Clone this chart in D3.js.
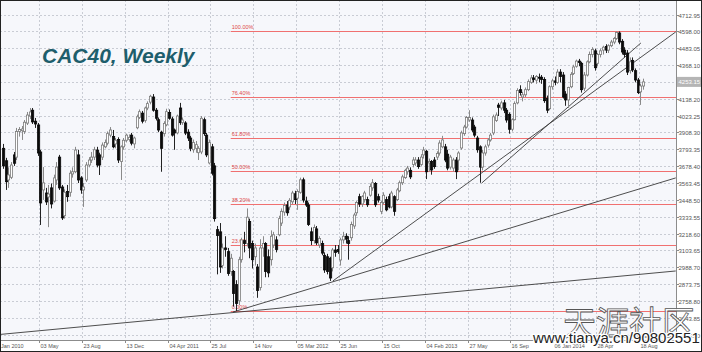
<!DOCTYPE html>
<html>
<head>
<meta charset="utf-8">
<script src="https://cdn.jsdelivr.net/npm/d3@7"></script>
<style>
html, body { margin: 0; padding: 0; background: #fff; }
svg { display: block; font-family: "Liberation Sans", Arial, sans-serif; }
</style>
</head>
<body>
<div id="chart"></div>
<script>
// weekly CAC40 candles, first week 25 Jan 2010, last week 25 Aug 2014
const firstWeek = new Date(Date.UTC(2010, 0, 25));
const lastWeek = new Date(Date.UTC(2014, 7, 25));

const opens = [
  3800, 3715, 3584, 3602, 3755, 3740, 3915, 3920, 3915, 3972, 4020, 4060, 3985, 3959,
  3775, 3516, 3495, 3468, 3530, 3440, 3584, 3740, 3536, 3340, 3505, 3500, 3625, 3640, 3755, 3598,
  3516, 3584, 3686, 3720, 3740, 3788, 3755, 3740, 3810, 3835, 3890, 3880, 3830, 3860, 3710, 3810,
  3855, 3860, 3890, 3830, 3940, 4010, 4040, 3990, 4075, 4115, 4150, 4060, 3995, 3910, 3900, 3960,
  4045, 4000, 3925, 3905, 4075, 3975, 3973, 3910, 3870, 3790, 3800, 3770, 3775, 3995, 3890, 3700,
  3810, 3680, 3245, 3230, 3000, 3120, 3095, 2960, 2960, 2870, 2760, 3040, 3170, 3150, 3300, 3150,
  3060, 2990, 2850, 3120, 3150, 3060, 3040, 3140, 3175, 3210, 3290, 3365, 3413, 3400, 3435, 3490,
  3460, 3500, 3585, 3440, 3413, 3230, 3170, 3250, 3140, 3150, 3070, 3060, 3050, 2985, 3106, 3110,
  3038, 3175, 3200, 3170, 3190, 3270, 3360, 3470, 3420, 3450, 3450, 3480, 3530, 3560, 3470, 3370,
  3430, 3450, 3470, 3400, 3470, 3450, 3510, 3565, 3600, 3640, 3650, 3690, 3700, 3720, 3690, 3755,
  3780, 3700, 3710, 3720, 3740, 3768, 3810, 3810, 3760, 3672, 3665, 3720, 3720, 3802, 3900, 3945,
  3993, 3993, 3945, 3870, 3810, 3672, 3768, 3822, 3857, 3905, 3990, 4095, 4075, 4110, 4060, 4030,
  3930, 3995, 4110, 4200, 4150, 4165, 4200, 4250, 4280, 4265, 4285, 4285, 4270, 4140, 4070, 4220,
  4260, 4250, 4320, 4300, 4170, 4130, 4220, 4310, 4360, 4395, 4380, 4210, 4300, 4390, 4440, 4465,
  4380, 4440, 4470, 4495, 4470, 4500, 4525, 4550, 4587, 4530, 4470, 4450, 4330, 4400, 4330, 4266,
  4185, 4225
];
const highs = [
  3830, 3735, 3670, 3706, 3775, 3939, 3945, 3952, 3993, 4048, 4075, 4075, 4007, 3973,
  3789, 3672, 3530, 3550, 3560, 3620, 3706, 3755, 3550, 3520, 3550, 3650, 3670, 3810, 3790, 3610,
  3563, 3706, 3740, 3775, 3810, 3810, 3770, 3840, 3860, 3915, 3945, 3925, 3870, 3875, 3820, 3870,
  3900, 3895, 3905, 3880, 4030, 4065, 4055, 4085, 4120, 4165, 4170, 4075, 4010, 3920, 3985, 4070,
  4065, 4015, 3935, 4030, 4110, 4010, 3985, 3930, 3885, 3860, 3850, 3815, 4020, 4010, 3905, 3860,
  3830, 3700, 3270, 3290, 3150, 3200, 3120, 3080, 2970, 2900, 3060, 3190, 3230, 3390, 3320, 3170,
  3150, 3010, 3180, 3200, 3160, 3110, 3240, 3230, 3200, 3340, 3390, 3430, 3440, 3460, 3510, 3510,
  3520, 3600, 3600, 3470, 3430, 3260, 3280, 3270, 3200, 3170, 3090, 3080, 3060, 3120, 3140, 3140,
  3190, 3230, 3220, 3200, 3300, 3360, 3440, 3490, 3480, 3510, 3470, 3560, 3590, 3570, 3490, 3440,
  3500, 3470, 3490, 3510, 3480, 3530, 3580, 3620, 3660, 3680, 3670, 3740, 3740, 3740, 3760, 3810,
  3790, 3730, 3720, 3740, 3780, 3855, 3885, 3830, 3790, 3755, 3735, 3740, 3780, 3920, 3960, 4020,
  4060, 4010, 3960, 3885, 3820, 3790, 3825, 3870, 3905, 4030, 4045, 4110, 4125, 4130, 4075, 4045,
  4005, 4120, 4210, 4230, 4185, 4215, 4270, 4300, 4300, 4300, 4310, 4300, 4285, 4160, 4230, 4275,
  4290, 4340, 4340, 4320, 4190, 4220, 4320, 4370, 4405, 4410, 4390, 4320, 4400, 4460, 4490, 4480,
  4450, 4480, 4500, 4510, 4510, 4540, 4560, 4598, 4598, 4545, 4490, 4470, 4420, 4420, 4345, 4280,
  4240, 4275
];
const lows = [
  3660, 3516, 3530, 3590, 3680, 3720, 3880, 3857, 3898, 3959, 4000, 3966, 3939, 3748,
  3277, 3448, 3413, 3262, 3390, 3430, 3550, 3516, 3311, 3320, 3435, 3470, 3600, 3630, 3563, 3490,
  3400, 3570, 3670, 3700, 3720, 3670, 3618, 3720, 3800, 3820, 3875, 3800, 3800, 3700, 3584, 3790,
  3840, 3845, 3820, 3800, 3930, 4000, 3970, 3975, 4060, 4100, 4050, 3990, 3910, 3640, 3880, 3950,
  3995, 3880, 3790, 3895, 3960, 3960, 3890, 3850, 3780, 3770, 3770, 3720, 3760, 3885, 3740, 3690,
  3615, 3300, 2940, 2950, 2980, 3060, 2930, 2930, 2720, 2690, 2730, 3020, 3090, 3130, 3050, 2980,
  3000, 2780, 2830, 3060, 2920, 2920, 3000, 3120, 3090, 3200, 3270, 3340, 3340, 3380, 3420, 3420,
  3380, 3490, 3430, 3400, 3270, 3140, 3150, 3140, 3120, 3070, 2950, 2940, 2895, 2960, 3060, 3080,
  3000, 3150, 3150, 3040, 3170, 3250, 3340, 3400, 3400, 3430, 3400, 3470, 3510, 3400, 3430, 3350,
  3420, 3370, 3390, 3390, 3340, 3440, 3500, 3550, 3590, 3620, 3590, 3670, 3680, 3660, 3680, 3730,
  3590, 3640, 3620, 3660, 3720, 3750, 3800, 3705, 3650, 3655, 3640, 3590, 3650, 3790, 3885, 3935,
  3980, 3910, 3875, 3770, 3565, 3650, 3750, 3805, 3845, 3890, 3980, 4020, 4060, 4040, 3975, 3900,
  3915, 3990, 4100, 4160, 4120, 4150, 4190, 4240, 4250, 4240, 4250, 4240, 4110, 4040, 4060, 4200,
  4230, 4240, 4250, 4140, 4090, 4075, 4210, 4300, 4350, 4360, 4180, 4190, 4290, 4380, 4420, 4330,
  4360, 4420, 4440, 4450, 4450, 4490, 4510, 4540, 4510, 4440, 4420, 4300, 4310, 4320, 4250, 4170,
  4096, 4200
];
const closes = [
  3680, 3572, 3618, 3686, 3698, 3915, 3928, 3932, 3978, 4027, 4048, 3980, 3966, 3768,
  3427, 3564, 3434, 3488, 3420, 3598, 3672, 3530, 3325, 3500, 3470, 3630, 3640, 3788, 3584, 3516,
  3536, 3686, 3720, 3740, 3790, 3686, 3686, 3822, 3840, 3900, 3925, 3810, 3855, 3720, 3810, 3855,
  3890, 3875, 3835, 3870, 4015, 4050, 3985, 4075, 4105, 4155, 4060, 4005, 3925, 3800, 3970, 4050,
  4005, 3890, 3905, 4020, 3975, 3993, 3904, 3870, 3800, 3840, 3825, 3800, 4005, 3900, 3755, 3840,
  3630, 3320, 3205, 2990, 3120, 3110, 2946, 3050, 2810, 2742, 3040, 3175, 3150, 3330, 3120, 3040,
  3120, 2830, 3120, 3150, 2960, 2950, 3200, 3210, 3110, 3320, 3370, 3410, 3360, 3445, 3495, 3450,
  3505, 3585, 3447, 3413, 3280, 3170, 3260, 3155, 3185, 3085, 2970, 2960, 2915, 3106, 3090, 3095,
  3175, 3200, 3180, 3150, 3280, 3345, 3430, 3420, 3470, 3495, 3415, 3540, 3565, 3415, 3447, 3430,
  3480, 3380, 3400, 3495, 3370, 3516, 3565, 3605, 3650, 3665, 3605, 3720, 3720, 3675, 3740, 3788,
  3640, 3710, 3652, 3675, 3765, 3836, 3857, 3720, 3665, 3740, 3720, 3640, 3768, 3905, 3945, 4010,
  4010, 3925, 3890, 3790, 3672, 3768, 3810, 3857, 3890, 4015, 4027, 4080, 4110, 4060, 3993, 3930,
  3995, 4105, 4195, 4180, 4165, 4200, 4255, 4280, 4270, 4290, 4280, 4270, 4125, 4060, 4220, 4260,
  4250, 4320, 4290, 4150, 4130, 4215, 4305, 4355, 4395, 4385, 4200, 4300, 4390, 4440, 4475, 4350,
  4440, 4465, 4490, 4470, 4500, 4525, 4550, 4590, 4525, 4457, 4440, 4320, 4390, 4335, 4266, 4180,
  4225, 4253.15
];

// axis ticks
const yTicks = [2528.90, 2643.85, 2758.80, 2873.75, 2988.70, 3103.65, 3218.60, 3333.55, 3448.50, 3563.45,
  3678.40, 3793.35, 3908.30, 4023.25, 4138.20, 4253.15, 4368.10, 4483.05, 4598.00, 4712.95];
const xTickDates = ["2010-01-11", "2010-05-03", "2010-08-23", "2010-12-13", "2011-04-04", "2011-07-25",
  "2011-11-14", "2012-03-05", "2012-06-25", "2012-10-15", "2013-02-04", "2013-05-27", "2013-09-16",
  "2014-01-06", "2014-04-28", "2014-08-18"];
const xTickLabels = ["Jan 2010", "03 May", "23 Aug", "13 Dec", "04 Apr 2011", "25 Jul", "14 Nov",
  "05 Mar 2012", "25 Jun", "15 Oct", "04 Feb 2013", "27 May", "16 Sep", "06 Jan 2014", "28 Apr", "18 Aug"];

// fibonacci retracement
const fibStart = "2011-09-16";
const fibLow = 2690.6;
const fibHigh = 4598.0;
const fibLevels = [0, 0.236, 0.382, 0.5, 0.618, 0.764, 1];
const fibLabels = ["0.00%", "23.60%", "38.20%", "50.00%", "61.80%", "76.40%", "100.00%"];

// trend lines, [date, value] pairs
const trendLines = [
  [["2010-01-21", 2530], ["2014-11-22", 2963]],
  [["2011-09-22", 2683], ["2014-11-22", 3598]],
  [["2012-06-09", 2895], ["2014-11-22", 4594]],
  [["2013-07-03", 3563], ["2014-08-23", 4519]]
];

const lastPrice = 4253.15;

const width = 702, height = 352;
const plot = { left: 0, top: 0, right: 676, bottom: 340 };

const parse = d3.utcParse("%Y-%m-%d");
const weeks = d3.utcMonday.range(firstWeek, d3.utcDay.offset(lastWeek, 1));
const candles = weeks.map((d, i) => ({ date: d, o: opens[i], h: highs[i], l: lows[i], c: closes[i] }));

const x = d3.scaleUtc()
  .domain([Date.UTC(2010, 4, 3), Date.UTC(2014, 7, 18)])
  .range([39, 639]);
const y = d3.scaleLinear()
  .domain([2528.90, 4712.95])
  .range([334.6, 14.5]);

const svg = d3.select("#chart").append("svg")
  .attr("width", width)
  .attr("height", height);

svg.append("rect").attr("width", width).attr("height", height).attr("fill", "#fff");
svg.append("rect")
  .attr("x", plot.left).attr("y", plot.top)
  .attr("width", plot.right - plot.left).attr("height", plot.bottom - plot.top)
  .attr("fill", "#f6f7fb");

svg.append("defs").append("clipPath").attr("id", "plot-clip")
  .append("rect")
  .attr("x", plot.left).attr("y", plot.top)
  .attr("width", plot.right - plot.left).attr("height", plot.bottom - plot.top);

const g = svg.append("g").attr("clip-path", "url(#plot-clip)");

// grid
g.selectAll(".hgrid").data(yTicks).join("line")
  .attr("x1", plot.left).attr("x2", plot.right)
  .attr("y1", d => Math.round(y(d)) + 0.5).attr("y2", d => Math.round(y(d)) + 0.5)
  .attr("stroke", "#c9ccd4").attr("stroke-dasharray", "2,2");
g.selectAll(".vgrid").data(xTickDates).join("line")
  .attr("x1", d => Math.round(x(parse(d))) + 0.5).attr("x2", d => Math.round(x(parse(d))) + 0.5)
  .attr("y1", plot.top).attr("y2", plot.bottom)
  .attr("stroke", "#c9ccd4").attr("stroke-dasharray", "2,2");

// fibonacci lines
const fibX = x(parse(fibStart));
fibLevels.forEach((f, i) => {
  const v = fibLow + f * (fibHigh - fibLow);
  const yy = Math.round(y(v)) + 0.5;
  g.append("line")
    .attr("x1", fibX).attr("x2", plot.right)
    .attr("y1", yy).attr("y2", yy)
    .attr("stroke", "#f07070").attr("stroke-width", 1);
  g.append("text")
    .attr("x", fibX + 1).attr("y", yy - 2.5)
    .attr("font-size", 5.5).attr("fill", "#e04848")
    .text(fibLabels[i]);
});

// trend lines
const line = d3.line().x(d => x(parse(d[0]))).y(d => y(d[1]));
g.selectAll(".trend").data(trendLines).join("path")
  .attr("d", line)
  .attr("fill", "none")
  .attr("stroke", "#3a3a3a")
  .attr("stroke-width", 0.9);

// candles
const half = 1.34;
const cx = d => Math.round(x(d.date) + half);
const cg = g.append("g");
cg.selectAll(".wick").data(candles).join("line")
  .attr("x1", d => cx(d) + 0.5)
  .attr("x2", d => cx(d) + 0.5)
  .attr("y1", d => y(d.h)).attr("y2", d => y(d.l))
  .attr("stroke", d => d.c >= d.o ? "#8a8a8a" : "#222")
  .attr("stroke-width", 1);
cg.selectAll(".body").data(candles).join("rect")
  .attr("x", d => d.c >= d.o ? cx(d) - 0.6 : cx(d) - 0.5)
  .attr("y", d => y(Math.max(d.o, d.c)))
  .attr("width", d => d.c >= d.o ? 2.2 : 2.2)
  .attr("height", d => Math.max(1, Math.abs(y(d.o) - y(d.c))))
  .attr("fill", d => d.c >= d.o ? "#fff" : "#0a0a0a")
  .attr("stroke", d => d.c >= d.o ? "#7a7a7a" : "#0a0a0a")
  .attr("stroke-width", 0.8);

// title
svg.append("text")
  .attr("x", 42).attr("y", 63)
  .attr("font-size", 21).attr("font-weight", "bold").attr("font-style", "italic")
  .attr("fill", "#1e5e6c")
  .text("CAC40, Weekly");

// right axis
svg.append("line")
  .attr("x1", plot.right + 0.5).attr("x2", plot.right + 0.5)
  .attr("y1", plot.top).attr("y2", plot.bottom)
  .attr("stroke", "#8c8c8c");
const yAxis = svg.append("g");
yTicks.forEach(v => {
  const yy = Math.round(y(v)) + 0.5;
  yAxis.append("line").attr("x1", plot.right).attr("x2", plot.right + 3)
    .attr("y1", yy).attr("y2", yy).attr("stroke", "#8c8c8c");
  yAxis.append("text")
    .attr("x", plot.right + 2.5).attr("y", yy + 2)
    .attr("font-size", 6).attr("fill", "#555")
    .text(d3.format(".2f")(v));
});

// current price box
const py = y(lastPrice);
svg.append("rect")
  .attr("x", plot.right + 1).attr("y", py - 5)
  .attr("width", 24).attr("height", 10)
  .attr("fill", "#b5b5b5");
svg.append("text")
  .attr("x", plot.right + 2.5).attr("y", py + 2)
  .attr("font-size", 6).attr("fill", "#fff")
  .text(d3.format(".2f")(lastPrice));

// bottom axis
svg.append("line")
  .attr("x1", plot.left).attr("x2", plot.right + 1)
  .attr("y1", plot.bottom + 0.5).attr("y2", plot.bottom + 0.5)
  .attr("stroke", "#8c8c8c");
xTickDates.forEach((d, i) => {
  const xx = Math.round(x(parse(d))) + 0.5;
  svg.append("line").attr("x1", xx).attr("x2", xx)
    .attr("y1", plot.bottom).attr("y2", plot.bottom + 3).attr("stroke", "#8c8c8c");
  svg.append("text")
    .attr("x", Math.max(1, xx + 1)).attr("y", plot.bottom + 8)
    .attr("font-size", 5.5).attr("fill", "#555")
    .text(xTickLabels[i]);
});

// frame
svg.append("rect")
  .attr("x", 0.5).attr("y", 0.5)
  .attr("width", width - 1).attr("height", height - 1)
  .attr("fill", "none").attr("stroke", "#222");

// watermark (drawn over the chart, as in the source image)
svg.append("text")
  .attr("x", 563).attr("y", 335)
  .attr("font-family", "Noto Sans CJK SC")
  .attr("font-size", 33)
  .attr("fill", "#fff").attr("fill-opacity", 0.85)
  .attr("stroke", "#555").attr("stroke-width", 0.8)
  .text("天涯社区");
svg.append("text")
  .attr("x", 533).attr("y", 343)
  .attr("font-size", 15)
  .attr("fill", "#222")
  .attr("stroke", "#fff").attr("stroke-width", 2.5).attr("paint-order", "stroke")
  .text("www.tianya.cn/90802551");
</script>
</body>
</html>
